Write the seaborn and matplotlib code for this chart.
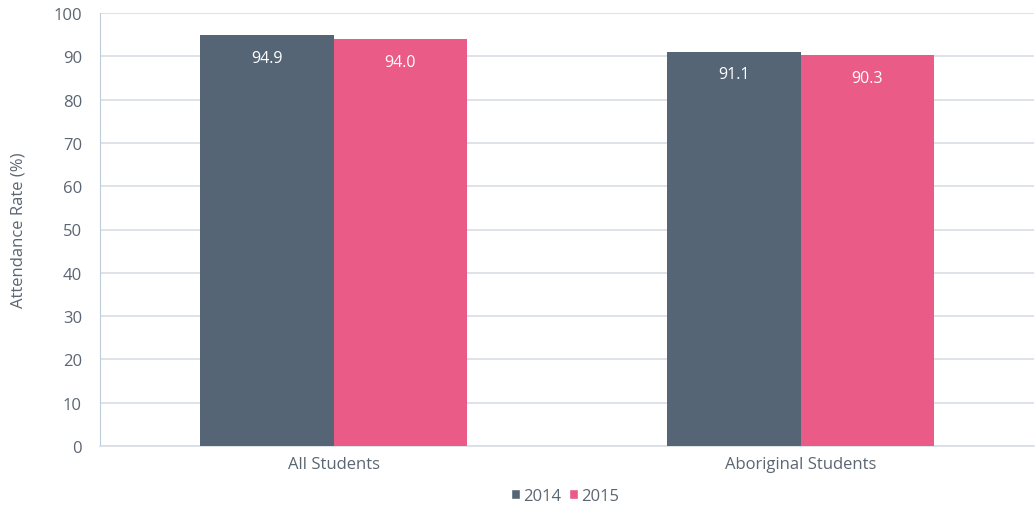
import matplotlib
matplotlib.use("Agg")
import matplotlib.pyplot as plt
import seaborn as sns
import pandas as pd
from matplotlib.patches import Patch

categories = ["All Students", "Aboriginal Students"]
years = ["2014", "2015"]
values_2014 = [94.9, 91.1]
values_2015 = [94.0, 90.3]
y_ticks = [0, 10, 20, 30, 40, 50, 60, 70, 80, 90, 100]
colors = {"2014": "#556575", "2015": "#ea5c87"}

rows = []
for c, v in zip(categories, values_2014):
    rows.append({"Category": c, "Year": "2014", "Rate": v})
for c, v in zip(categories, values_2015):
    rows.append({"Category": c, "Year": "2015", "Rate": v})
df = pd.DataFrame(rows)

sns.set_style("white")
plt.rcParams["font.family"] = ["Open Sans", "DejaVu Sans"]
text_color = "#5b6673"

fig = plt.figure(figsize=(10.35, 5.06), dpi=100)
ax = fig.add_axes([100/1035, 1 - 447/506, 934/1035, (447-14)/506])

sns.barplot(data=df, x="Category", y="Rate", hue="Year", order=categories,
            hue_order=years, palette=colors, width=0.572, ax=ax,
            saturation=1, legend=False, linewidth=0, zorder=3)

for container in ax.containers:
    for bar in container:
        h = bar.get_height()
        ax.text(bar.get_x() + bar.get_width()/2, h - 5.3, f"{h:.1f}",
                ha="center", va="center", color="white", fontsize=11.5, zorder=4)

ax.set_xlim(-0.5, 1.5)
ax.set_ylim(0, 100)
ax.set_yticks(y_ticks)
ax.yaxis.grid(True, color="#d8dee6", linewidth=1.2, zorder=0)
ax.set_axisbelow(True)
ax.set_xticks([0, 1])
ax.set_xticklabels(categories)
ax.tick_params(axis="x", length=0, pad=7, colors=text_color, labelsize=12)
ax.set_xticks([-0.5, 0.5, 1.5], minor=True)
ax.tick_params(axis="x", which="minor", length=4, color="#bfcbd8", direction="out")
ax.tick_params(axis="y", length=5, color="#bfcbd8", colors=text_color, labelsize=12, pad=8)
ax.set_xlabel("")
ax.set_ylabel("Attendance Rate (%)", color=text_color, fontsize=12, labelpad=19)
for s in ["top", "right"]:
    ax.spines[s].set_visible(False)
ax.spines["left"].set_color("#bfcbd8")
ax.spines["bottom"].set_color("#d8dee6")
ax.spines["bottom"].set_linewidth(1.2)

handles = [Patch(facecolor=colors[y], label=y) for y in years]
fig.legend(handles=handles, loc="center", bbox_to_anchor=(565/1035, 1 - 497/506),
           ncol=2, frameon=False, handlelength=0.55, handleheight=0.55,
           handletextpad=0.15, columnspacing=0.5, labelcolor=text_color, fontsize=12)

fig.savefig("out.png", dpi=100)
